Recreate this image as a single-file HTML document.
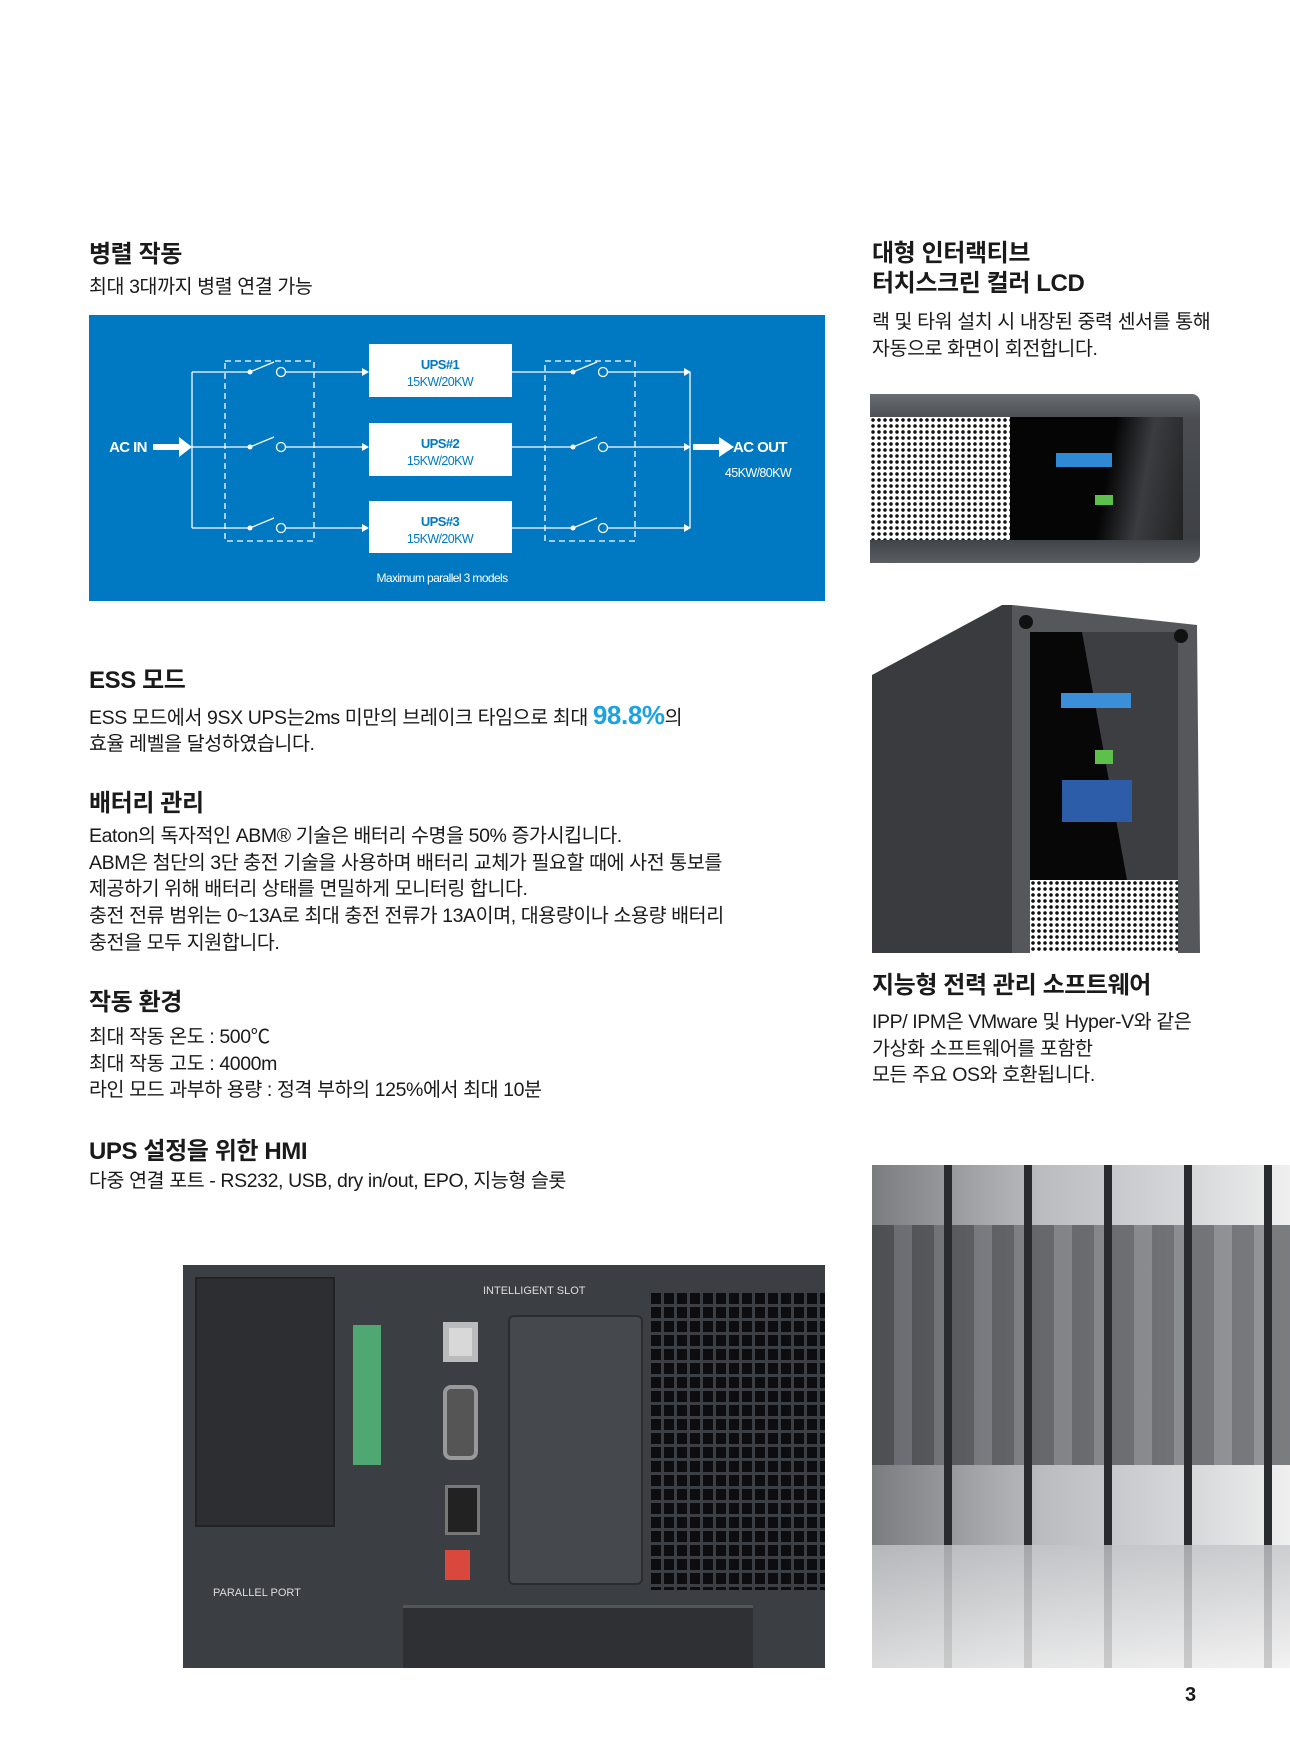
<!DOCTYPE html>
<html><head><meta charset="utf-8">
<style>
*{margin:0;padding:0;box-sizing:border-box}
body{width:1290px;height:1751px;background:#fff;position:relative;overflow:hidden;font-family:"Liberation Sans","Noto Sans CJK KR",sans-serif;color:#1a1a1a}
.t{position:absolute;white-space:nowrap;letter-spacing:-0.4px}
.h{font-size:24px;font-weight:bold;line-height:29px}
.b{font-size:19.5px;line-height:26.7px}
.mesh{position:absolute;background-color:#fff;background-image:radial-gradient(circle,#111 1.6px,transparent 2px);background-size:6px 6px}
</style></head><body>

<div class="t h" style="left:89px;top:240px">병렬 작동</div>
<div class="t b" style="left:89px;top:274px">최대 3대까지 병렬 연결 가능</div>

<svg style="position:absolute;left:89px;top:315px" width="736" height="286" viewBox="89 315 736 286">
<rect x="89" y="315" width="736" height="286" fill="#0079c2"/>
<g stroke="#fff" stroke-width="1.3" fill="none">
<rect x="225" y="361" width="89" height="180" stroke-dasharray="6,4"/>
<rect x="545" y="361" width="90" height="180" stroke-dasharray="6,4"/>
<line x1="192" y1="372" x2="192" y2="528"/>
<line x1="690" y1="372" x2="690" y2="528"/>
<g id="r">
<line x1="192" y1="372" x2="250" y2="372"/>
<line x1="250" y1="372" x2="274" y2="362"/>
<circle cx="281" cy="372" r="4.5"/>
<line x1="286" y1="372" x2="364" y2="372"/>
<line x1="512" y1="372" x2="573" y2="372"/>
<line x1="573" y1="372" x2="597" y2="362"/>
<circle cx="603" cy="372" r="4.5"/>
<line x1="608" y1="372" x2="685" y2="372"/>
</g>
<use href="#r" y="75"/>
<use href="#r" y="156"/>
</g>
<g fill="#fff">
<g id="a"><circle cx="250" cy="372" r="2.5"/><circle cx="573" cy="372" r="2.5"/><polygon points="362,368 369,372 362,376"/><polygon points="684,368 691,372 684,376"/></g>
<use href="#a" y="75"/><use href="#a" y="156"/>
<rect x="369" y="344" width="143" height="53"/>
<rect x="369" y="423" width="143" height="53"/>
<rect x="369" y="501" width="143" height="52"/>
<rect x="153" y="444" width="28" height="6"/><polygon points="179,437 192,447 179,457"/>
<rect x="693" y="444" width="28" height="6"/><polygon points="719,437 734,447 719,457"/>
</g>
<g font-family="Liberation Sans,sans-serif" font-weight="bold" text-anchor="middle" letter-spacing="-0.6">
<text x="440" y="369" fill="#0079c2" font-size="13">UPS#1</text>
<text x="440" y="386" fill="#0079c2" font-size="12.5" font-weight="normal">15KW/20KW</text>
<text x="440" y="448" fill="#0079c2" font-size="13">UPS#2</text>
<text x="440" y="465" fill="#0079c2" font-size="12.5" font-weight="normal">15KW/20KW</text>
<text x="440" y="526" fill="#0079c2" font-size="13">UPS#3</text>
<text x="440" y="543" fill="#0079c2" font-size="12.5" font-weight="normal">15KW/20KW</text>
<text x="128" y="452" fill="#fff" font-size="15">AC IN</text>
<text x="760" y="452" fill="#fff" font-size="15">AC OUT</text>
<text x="758" y="477" fill="#fff" font-size="12.5" font-weight="normal">45KW/80KW</text>
<text x="442" y="582" fill="#fff" font-size="12" font-weight="normal">Maximum parallel 3 models</text>
</g>
</svg>

<div class="t h" style="left:89px;top:666px">ESS 모드</div>
<div class="t b" style="left:89px;top:702px">ESS 모드에서 9SX UPS는2ms 미만의 브레이크 타임으로 최대 <span style="color:#1aa3e0;font-weight:bold;font-size:26px">98.8%</span>의</div>
<div class="t b" style="left:89px;top:731px">효율 레벨을 달성하였습니다.</div>

<div class="t h" style="left:89px;top:789px">배터리 관리</div>
<div class="t b" style="left:89px;top:823px">Eaton의 독자적인 ABM® 기술은 배터리 수명을 50% 증가시킵니다.<br>ABM은 첨단의 3단 충전 기술을 사용하며 배터리 교체가 필요할 때에 사전 통보를<br>제공하기 위해 배터리 상태를 면밀하게 모니터링 합니다.<br>충전 전류 범위는 0~13A로 최대 충전 전류가 13A이며, 대용량이나 소용량 배터리<br>충전을 모두 지원합니다.</div>

<div class="t h" style="left:89px;top:988px">작동 환경</div>
<div class="t b" style="left:89px;top:1024px">최대 작동 온도 : 500℃<br>최대 작동 고도 : 4000m<br>라인 모드 과부하 용량 : 정격 부하의 125%에서 최대 10분</div>

<div class="t h" style="left:89px;top:1137px">UPS 설정을 위한 HMI</div>
<div class="t b" style="left:89px;top:1168px">다중 연결 포트 - RS232, USB, dry in/out, EPO, 지능형 슬롯</div>

<div class="t h" style="left:872px;top:239px;line-height:30px">대형 인터랙티브<br>터치스크린 컬러 LCD</div>
<div class="t b" style="left:872px;top:309px">랙 및 타워 설치 시 내장된 중력 센서를 통해<br>자동으로 화면이 회전합니다.</div>

<div class="t h" style="left:872px;top:971px">지능형 전력 관리 소프트웨어</div>
<div class="t b" style="left:872px;top:1009px">IPP/ IPM은 VMware 및 Hyper-V와 같은<br>가상화 소프트웨어를 포함한<br>모든 주요 OS와 호환됩니다.</div>

<!-- rack LCD -->
<div style="position:absolute;left:870px;top:394px;width:330px;height:169px;background:linear-gradient(#6a6d71,#4a4d51 15%,#3e4145 85%,#5a5d61);border-radius:0 8px 8px 0"></div>
<div class="mesh" style="left:870px;top:417px;width:140px;height:123px"></div>
<div style="position:absolute;left:1010px;top:417px;width:173px;height:123px;background:linear-gradient(100deg,#050505 55%,#3a3c40 75%,#222 100%)"></div>
<div style="position:absolute;left:1056px;top:453px;width:56px;height:14px;background:#2f8ad6"></div>
<div style="position:absolute;left:1095px;top:495px;width:18px;height:10px;background:#5cc04a"></div>

<!-- tower -->
<svg style="position:absolute;left:867px;top:600px" width="340" height="356">
<polygon points="5,75 135,5 145,5 145,353 5,353" fill="#3a3b3e"/>
<polygon points="145,5 330,25 333,353 145,353" fill="#55575b"/>
<rect x="163" y="32" width="148" height="248" fill="#070707"/>
<polygon points="215,32 311,32 311,280 260,280" fill="#4a4c50" opacity="0.8"/>
<rect x="194" y="93" width="70" height="15" fill="#3a8fd8"/>
<rect x="195" y="180" width="70" height="42" fill="#2d5ca8"/>
<rect x="228" y="150" width="18" height="14" fill="#5cc04a"/>
<circle cx="159" cy="22" r="7" fill="#111"/><circle cx="314" cy="36" r="7" fill="#111"/>
<rect x="163" y="280" width="148" height="73" fill="#fff"/>
</svg>
<div class="mesh" style="left:1030px;top:880px;width:148px;height:73px"></div>

<!-- back panel -->
<div style="position:absolute;left:183px;top:1265px;width:642px;height:403px;background:#3b3e43;overflow:hidden">
 <div style="position:absolute;left:12px;top:12px;width:140px;height:250px;background:#2c2e32;border:2px solid #222"></div>
 <div style="position:absolute;left:170px;top:60px;width:28px;height:140px;background:#4fa872"></div>
 <div style="position:absolute;left:260px;top:57px;width:35px;height:40px;background:#d8d8d8;border:6px solid #bbb"></div>
 <div style="position:absolute;left:260px;top:120px;width:35px;height:75px;background:#555;border:4px solid #999;border-radius:8px"></div>
 <div style="position:absolute;left:262px;top:220px;width:35px;height:50px;background:#222;border:3px solid #777"></div>
 <div style="position:absolute;left:262px;top:285px;width:25px;height:30px;background:#d9473d"></div>
 <div style="position:absolute;left:325px;top:50px;width:135px;height:270px;background:#45484d;border:2px solid #2a2c30;border-radius:6px"></div>
 <div style="position:absolute;left:465px;top:25px;width:180px;height:300px;background-image:linear-gradient(90deg,#3b3e43 3px,transparent 3px),linear-gradient(#3b3e43 3px,transparent 3px);background-size:13px 14px;background-color:#0d0d0f"></div>
 <div style="position:absolute;left:220px;top:340px;width:350px;height:70px;background:#2e3034;border-top:3px solid #555"></div>
 <div style="position:absolute;left:300px;top:20px;color:#ddd;font-size:11px">INTELLIGENT SLOT</div>
 <div style="position:absolute;left:30px;top:322px;color:#ddd;font-size:11px">PARALLEL PORT</div>
</div>

<!-- server room -->
<div style="position:absolute;left:872px;top:1165px;width:418px;height:503px;background:linear-gradient(90deg,#7a7c80,#b9bbbe 40%,#dadbdd 80%,#efefef);overflow:hidden">
 <div style="position:absolute;left:0;top:60px;width:100%;height:240px;background:repeating-linear-gradient(90deg,#2e3034 0 22px,#5a5d62 22px 40px);opacity:.6"></div>
 <div style="position:absolute;left:0;top:0;width:100%;height:100%;background:repeating-linear-gradient(90deg,transparent 0 72px,#2a2b2e 72px 80px)"></div>
 <div style="position:absolute;left:0;top:380px;width:100%;height:123px;background:linear-gradient(#c4c5c8,#f3f3f3);opacity:.8"></div>
</div>

<div class="t" style="left:1185px;top:1684px;font-size:20px;font-weight:bold">3</div>
</body></html>
